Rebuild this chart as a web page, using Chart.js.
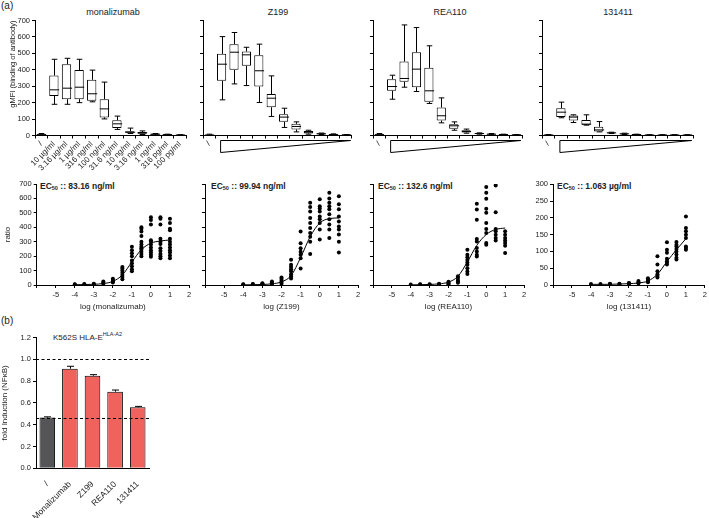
<!DOCTYPE html>
<html>
<head>
<meta charset="utf-8">
<script src="https://cdn.jsdelivr.net/npm/chart.js@4.4.1/dist/chart.umd.min.js"></script>
<style>
body { margin: 0; background: #fff; width: 709px; height: 518px; position: relative; overflow: hidden;
       font-family: 'Liberation Sans', Arial, sans-serif; color: #222; }
canvas { position: absolute; }
.t { position: absolute; white-space: nowrap; line-height: 1.2; }
.ctr { transform: translateX(-50%); }
.ec { font-weight: bold; font-size: 8.5px; }
.ec sub { font-size: 5.5px; vertical-align: -1px; }
</style>
</head>
<body>
<div class="t" style="left:1px;top:0px;font-size:10px">(a)</div>
<div class="t" style="left:1px;top:315px;font-size:10px">(b)</div>

<div class="t ctr" style="left:113px;top:7px;font-size:9px">monalizumab</div>
<div class="t ctr" style="left:278px;top:7px;font-size:9px">Z199</div>
<div class="t ctr" style="left:450px;top:7px;font-size:9px">REA110</div>
<div class="t ctr" style="left:618px;top:7px;font-size:9px">131411</div>

<div class="t ec" style="left:40px;top:181px">EC<sub>50</sub> :: 83.16 ng/ml</div>
<div class="t ec" style="left:211px;top:181px">EC<sub>50</sub> :: 99.94 ng/ml</div>
<div class="t ec" style="left:378px;top:181px">EC<sub>50</sub> :: 132.6 ng/ml</div>
<div class="t ec" style="left:557px;top:181px">EC<sub>50</sub> :: 1.063 µg/ml</div>

<div class="t" style="left:53px;top:331px;font-size:8px">K562S HLA-E<sup style="font-size:5.5px">HLA-A2</sup></div>

<canvas id="top1" width="195" height="172" style="left:0;top:0"></canvas>
<canvas id="top2" width="190" height="165" style="left:170px;top:0"></canvas>
<canvas id="top3" width="190" height="165" style="left:340px;top:0"></canvas>
<canvas id="top4" width="200" height="165" style="left:509px;top:0"></canvas>

<canvas id="bot1" width="195" height="142" style="left:0;top:170px"></canvas>
<canvas id="bot2" width="190" height="142" style="left:175px;top:170px"></canvas>
<canvas id="bot3" width="185" height="142" style="left:345px;top:170px"></canvas>
<canvas id="bot4" width="194" height="142" style="left:515px;top:170px"></canvas>

<canvas id="fold" width="160" height="188" style="left:0;top:330px"></canvas>

<script>
// ---- data ----
const concLabels = ['/', '10 µg/ml', '3.16 µg/ml', '1 µg/ml', '316 ng/ml', '100 ng/ml', '31.6 ng/ml',
                    '10 ng/ml', '3.16 ng/ml', '1 ng/ml', '316 pg/ml', '100 pg/ml'];

// box plots (gMFI): min, q1, median, q3, max per concentration
const monaMin = [0, 190, 190, 200, 205, 101, 37, 12, 6, 3, 2, 1];
const monaQ1  = [3, 241, 221, 221, 211, 110, 45, 16, 10, 5, 3, 2];
const monaMed = [5, 278, 288, 294, 254, 162, 71, 20, 16, 8, 5, 3];
const monaQ3  = [8, 365, 434, 398, 339, 221, 93, 26, 22, 10, 7, 4];
const monaMax = [12, 464, 470, 464, 398, 325, 118, 45, 28, 12, 8, 5];

const z199Min = [0, 217, 314, 304, 201, 116, 49, 22, 8, 6, 3, 2];
const z199Q1  = [2, 333, 400, 424, 298, 172, 83, 37, 12, 8, 5, 3];
const z199Med = [3, 434, 507, 491, 394, 227, 112, 55, 20, 10, 6, 4];
const z199Q3  = [5, 497, 556, 511, 489, 252, 130, 71, 28, 13, 8, 5];
const z199Max = [8, 602, 627, 537, 556, 363, 166, 83, 32, 15, 10, 6];

const reaMin = [0, 221, 294, 268, 195, 77, 32, 14, 8, 5, 4, 3];
const reaQ1  = [3, 272, 327, 294, 205, 91, 41, 18, 10, 6, 5, 3];
const reaMed = [5, 298, 347, 404, 272, 120, 59, 24, 12, 8, 6, 4];
const reaQ3  = [8, 343, 450, 507, 412, 170, 69, 32, 14, 10, 7, 5];
const reaMax = [12, 367, 673, 657, 546, 229, 83, 39, 16, 12, 8, 6];

const c131Min = [0, 108, 79, 63, 22, 12, 6, 4, 1, 1, 1, 1];
const c131Q1  = [2, 112, 91, 65, 24, 14, 8, 5, 2, 2, 2, 2];
const c131Med = [3, 142, 112, 69, 34, 16, 10, 6, 3, 3, 3, 3];
const c131Q3  = [4, 166, 122, 95, 53, 18, 12, 7, 4, 4, 4, 4];
const c131Max = [6, 203, 126, 126, 85, 20, 14, 8, 5, 5, 5, 5];

// dose response (ratio) per log dose
const doseLog = [-4, -3.5, -3, -2.5, -2, -1.5, -1, -0.5, 0, 0.5, 1];

const monaRatio = [
  [4, 6], [4, 7], [5, 9], [10, 16, 24], [18, 26, 35, 44],
  [40, 55, 70, 85, 100, 115, 125],
  [95, 110, 130, 150, 170, 200, 220, 240, 265],
  [200, 215, 230, 245, 255, 265, 280, 300, 340, 370, 390, 400],
  [195, 210, 225, 240, 260, 280, 300, 310, 420, 450, 470],
  [185, 200, 215, 235, 255, 285, 300, 320, 420, 460, 470],
  [185, 205, 225, 240, 260, 280, 300, 320, 380, 390, 430, 460]
];
const monaFit = [2, 3, 5, 10, 25, 70, 160, 245, 290, 305, 312];

const z199Ratio = [
  [3, 5], [5, 7], [5, 9, 12], [8, 12, 18, 24], [10, 20, 30, 42, 52],
  [45, 60, 75, 95, 110, 125, 140, 175],
  [115, 185, 210, 230, 255, 290, 370],
  [215, 300, 335, 360, 395, 430, 465, 510, 540, 570],
  [315, 385, 430, 455, 475, 510, 530, 545, 595],
  [325, 385, 420, 455, 490, 525, 545, 570, 600, 640],
  [225, 300, 350, 385, 405, 440, 475, 525, 560, 615]
];
const z199Fit = [1, 2, 4, 8, 22, 65, 190, 335, 430, 460, 465];

const reaRatio = [
  [3], [3, 5], [3, 6], [5, 9], [5, 10, 15, 22],
  [15, 25, 35, 50, 60],
  [77, 93, 116, 140, 156, 174, 193, 209, 244],
  [198, 209, 233, 256, 302, 319, 453, 523, 563],
  [279, 291, 360, 388, 430, 500, 528, 598, 640, 679],
  [309, 326, 349, 372, 388, 505, 690],
  [221, 272, 291, 309, 326, 349, 372]
];
const reaFit = [1, 2, 4, 8, 20, 60, 160, 275, 350, 385, 395];

const c131Ratio = [
  [3], [3], [3, 4], [3, 4], [3, 5, 6], [5, 8, 12], [8, 12, 15, 20],
  [22, 27, 32, 41, 61, 86],
  [61, 66, 71, 78, 96, 105, 127],
  [76, 81, 91, 100, 107, 115, 120, 128],
  [105, 110, 115, 140, 150, 160, 170, 204]
];
const c131Fit = [2, 2, 2, 3, 4, 6, 12, 32, 70, 105, 138];

// fold induction (NFkB)
const foldLabels = ['/', 'Monalizumab', 'Z199', 'REA110', '131411'];
const foldMean = [0.465, 0.914, 0.85, 0.703, 0.56];
const foldErr = [0.007, 0.022, 0.009, 0.015, 0.008];
const refLines = [1.0, 0.465];

// ---- setup ----
Chart.defaults.font.family = "'Liberation Sans', Arial, sans-serif";
Chart.defaults.font.size = 7.5;
Chart.defaults.color = '#222';

const axisGrid = { display: true, drawOnChartArea: false, drawTicks: true, tickLength: 3, color: '#000', tickColor: '#000' };
const axisBorder = { display: true, color: '#000', width: 1 };

// whiskers + median for the box plots
const boxPlugin = {
  id: 'boxes',
  afterDatasetsDraw(chart, args, opts) {
    const st = opts.stats;
    if (!st) return;
    const { ctx, scales: { x, y } } = chart;
    const bars = chart.getDatasetMeta(0).data;
    ctx.save();
    ctx.strokeStyle = '#000';
    ctx.lineWidth = 1;
    st.med.forEach((m, i) => {
      const cx = Math.round(x.getPixelForValue(i)) + 0.5;
      const hw = bars[i].width / 2;
      const cap = hw * 0.6;
      const yMin = y.getPixelForValue(st.min[i]), yMax = y.getPixelForValue(st.max[i]);
      ctx.beginPath();
      ctx.moveTo(cx, y.getPixelForValue(st.q3[i])); ctx.lineTo(cx, yMax);
      ctx.moveTo(cx, y.getPixelForValue(st.q1[i])); ctx.lineTo(cx, yMin);
      ctx.moveTo(cx - cap, yMax); ctx.lineTo(cx + cap, yMax);
      ctx.moveTo(cx - cap, yMin); ctx.lineTo(cx + cap, yMin);
      const ym = y.getPixelForValue(m);
      ctx.moveTo(cx - hw, ym); ctx.lineTo(cx + hw, ym);
      ctx.stroke();
    });
    ctx.restore();
  }
};

// decreasing-dose wedge under the x axis
const wedgePlugin = {
  id: 'wedge',
  afterDraw(chart, args, opts) {
    if (!opts.show) return;
    const { ctx, scales: { x, y } } = chart;
    const x0 = x.getPixelForValue(1) - 1, x1 = x.getPixelForValue(11) + 5;
    const y0 = y.getPixelForValue(0) + 5;
    ctx.save();
    ctx.strokeStyle = '#000';
    ctx.lineWidth = 1;
    ctx.beginPath();
    ctx.moveTo(x1, y0); ctx.lineTo(x0, y0); ctx.lineTo(x0, y0 + 12); ctx.closePath();
    ctx.stroke();
    ctx.restore();
  }
};

function topChart(id, st, o) {
  const ticks = { autoSkip: false, minRotation: 45, maxRotation: 45, font: { size: 8 }, padding: 1 };
  if (!o.allLabels) ticks.callback = (v, i) => (i === 0 ? '/' : '');
  const yTicks = { stepSize: 100, padding: 2 };
  if (!o.yLabels) yTicks.callback = () => '';
  return new Chart(document.getElementById(id), {
    type: 'bar',
    data: {
      labels: concLabels,
      datasets: [{
        data: st.q1.map((v, i) => [v, st.q3[i]]),
        backgroundColor: '#fff', borderColor: '#000', borderWidth: 1, borderSkipped: false,
        barPercentage: 0.74, categoryPercentage: 1
      }]
    },
    options: {
      responsive: false, animation: false,
      layout: { padding: { top: 20.5, right: o.padR } },
      plugins: { legend: { display: false }, tooltip: { enabled: false }, boxes: { stats: st }, wedge: { show: o.wedge } },
      scales: {
        x: { grid: axisGrid, border: axisBorder, ticks: ticks, afterFit: s => { s.height = o.xh; } },
        y: {
          min: 0, max: 700, ticks: yTicks, grid: axisGrid, border: axisBorder,
          title: o.yTitle ? { display: true, text: o.yTitle, align: 'end', font: { size: 7.5 }, padding: { top: 8, bottom: 0 } } : { display: false },
          afterFit: s => { s.width = o.yw; }
        }
      }
    },
    plugins: [boxPlugin, wedgePlugin]
  });
}

topChart('top1', { min: monaMin, q1: monaQ1, med: monaMed, q3: monaQ3, max: monaMax },
  { allLabels: true, yLabels: true, yTitle: 'gMFI (binding of antibody)', yw: 35, padR: 8.8, xh: 36.5, wedge: false });
topChart('top2', { min: z199Min, q1: z199Q1, med: z199Med, q3: z199Q3, max: z199Max },
  { allLabels: false, yLabels: false, yw: 33, padR: 8.2, xh: 29.5, wedge: true });
topChart('top3', { min: reaMin, q1: reaQ1, med: reaMed, q3: reaQ3, max: reaMax },
  { allLabels: false, yLabels: false, yw: 33, padR: 8, xh: 29.5, wedge: true });
topChart('top4', { min: c131Min, q1: c131Q1, med: c131Med, q3: c131Q3, max: c131Max },
  { allLabels: false, yLabels: false, yw: 33, padR: 16, xh: 29.5, wedge: true });

function doseChart(id, name, pts, fit, o) {
  const scatter = [];
  doseLog.forEach((d, i) => pts[i].forEach(v => scatter.push({ x: d, y: v })));
  const yTicks = { stepSize: o.step, padding: 2 };
  if (!o.yLabels) yTicks.callback = () => '';
  return new Chart(document.getElementById(id), {
    type: 'scatter',
    data: {
      datasets: [
        { type: 'line', data: doseLog.map((d, i) => ({ x: d, y: fit[i] })), borderColor: '#000', borderWidth: 1,
          pointRadius: 0, cubicInterpolationMode: 'monotone', fill: false },
        { data: scatter, backgroundColor: '#000', borderColor: '#000', pointRadius: 2, borderWidth: 0 }
      ]
    },
    options: {
      responsive: false, animation: false,
      layout: { padding: { top: o.padT, right: o.padR } },
      plugins: { legend: { display: false }, tooltip: { enabled: false } },
      scales: {
        x: {
          type: 'linear', min: -6, max: 2,
          ticks: { stepSize: 1, padding: 2, callback: v => (v === -6 ? '' : v) },
          grid: axisGrid, border: axisBorder,
          title: { display: true, text: 'log (' + name + ')', font: { size: 8 }, padding: 0 },
          afterFit: s => { s.height = 27; }
        },
        y: {
          min: 0, max: o.ymax, ticks: yTicks, grid: axisGrid, border: axisBorder,
          title: o.yTitle ? { display: true, text: o.yTitle, font: { size: 8 }, padding: { top: 2.7, bottom: 0 } } : { display: false },
          afterFit: s => { s.width = o.yw; }
        }
      }
    }
  });
}

doseChart('bot1', 'monalizumab', monaRatio, monaFit, { ymax: 700, step: 100, yLabels: true, yTitle: 'ratio', yw: 36.7, padT: 14, padR: 6 });
doseChart('bot2', 'Z199', z199Ratio, z199Fit, { ymax: 700, step: 100, yLabels: false, yw: 30, padT: 14, padR: 7 });
doseChart('bot3', 'REA110', reaRatio, reaFit, { ymax: 700, step: 100, yLabels: false, yw: 28, padT: 14, padR: 6 });
doseChart('bot4', '131411', c131Ratio, c131Fit, { ymax: 300, step: 50, yLabels: true, yw: 38, padT: 14.3, padR: 3.3 });

// error bars + dashed reference lines for the fold-induction bars
const foldPlugin = {
  id: 'foldExtras',
  afterDatasetsDraw(chart) {
    const { ctx, chartArea, scales: { x, y } } = chart;
    ctx.save();
    ctx.strokeStyle = '#000';
    ctx.lineWidth = 1;
    ctx.beginPath();
    foldMean.forEach((m, i) => {
      const cx = Math.round(x.getPixelForValue(i)) + 0.5;
      const yt = y.getPixelForValue(m + foldErr[i]);
      ctx.moveTo(cx, y.getPixelForValue(m)); ctx.lineTo(cx, yt);
      ctx.moveTo(cx - 3.5, yt); ctx.lineTo(cx + 3.5, yt);
    });
    ctx.stroke();
    ctx.setLineDash([3, 2.5]);
    ctx.beginPath();
    refLines.forEach(v => {
      const yy = Math.round(y.getPixelForValue(v)) + 0.5;
      ctx.moveTo(chartArea.left, yy); ctx.lineTo(chartArea.right, yy);
    });
    ctx.stroke();
    ctx.restore();
  }
};

new Chart(document.getElementById('fold'), {
  type: 'bar',
  data: {
    labels: foldLabels,
    datasets: [{
      data: foldMean,
      backgroundColor: ['#555557', '#f0625c', '#f0625c', '#f0625c', '#f0625c'],
      borderColor: '#000', borderWidth: 1,
      barPercentage: 0.69, categoryPercentage: 1
    }]
  },
  options: {
    responsive: false, animation: false,
    layout: { padding: { top: 7.5, right: 11 } },
    plugins: { legend: { display: false }, tooltip: { enabled: false } },
    scales: {
      x: {
        grid: { display: false }, border: axisBorder,
        ticks: { autoSkip: false, minRotation: 45, maxRotation: 45, font: { size: 8.5 }, padding: 3 },
        afterFit: s => { s.height = 49.7; }
      },
      y: {
        min: 0, max: 1.2,
        ticks: { stepSize: 0.2, padding: 2, callback: v => v.toFixed(1) },
        grid: axisGrid, border: axisBorder,
        title: { display: true, text: 'fold Induction (NFκB)', font: { size: 8 }, padding: { top: 0, bottom: 0 } },
        afterFit: s => { s.width = 36; }
      }
    }
  },
  plugins: [foldPlugin]
});
</script>
</body>
</html>
